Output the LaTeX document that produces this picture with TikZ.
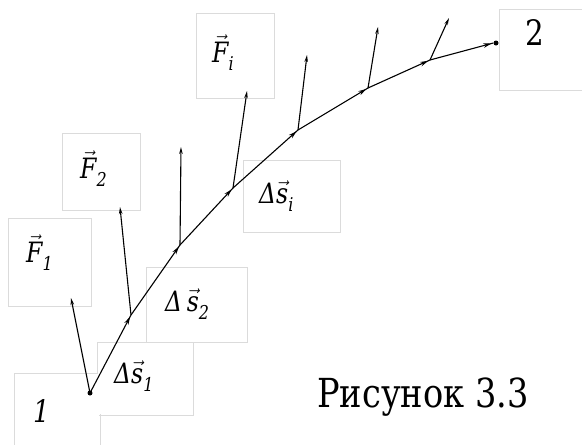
\documentclass[tikz,border=0pt]{standalone}
\usepackage{fontspec}
\setmainfont{DejaVu Serif}[FakeStretch=0.84]
\newfontfamily\tnr{DejaVu Serif}[FakeStretch=0.84]
\usetikzlibrary{arrows.meta,decorations.markings}
\newcommand{\vF}{\ensuremath{\vec{\mbox{\tnr\itshape F}}}}
\newcommand{\vS}{\ensuremath{\vec{\mbox{\tnr\itshape s}}}}
\newcommand{\lblsub}[1]{\raisebox{-0.3em}{\fontsize{19}{19}\selectfont\tnr\itshape #1}}
\begin{document}
\begin{tikzpicture}[x=1pt,y=-1pt,
  lblbox/.style={draw=black!14, line width=0.8pt},
  chord/.style={line width=1.1pt, postaction={decorate},
    decoration={markings, mark=at position -2pt with {\arrow{Stealth[length=8pt,width=4.5pt]}}}},
  force/.style={line width=1.1pt, -{Stealth[length=7pt,width=3.5pt]}},
  lbl/.style={inner sep=0pt, anchor=base west, font=\fontsize{28}{28}\selectfont\tnr},
  enddot/.style={circle, fill=black, inner sep=0pt, minimum size=5pt}]
\useasboundingbox (0,0) rectangle (582,445);
% label frames (outline of their union)
\draw[lblbox] (14,373) rectangle (100,452);
\draw[lblbox] (97,342) rectangle (193,415);
\draw[lblbox] (146,267) rectangle (247,342);
\draw[lblbox] (8,218) rectangle (91,306);
\draw[lblbox] (62,133) rectangle (140,210);
\draw[lblbox] (243,160) rectangle (340,232);
\draw[lblbox] (196,13) rectangle (274,98);
\draw[lblbox] (499,9) rectangle (590,90);
\fill[white] (14.9,373.9) rectangle (99.1,451);
\fill[white] (97.9,342.9) rectangle (192.1,414.1);
\fill[white] (146.9,267.9) rectangle (246.1,341.1);
\fill[white] (8.9,218.9) rectangle (90.1,305.1);
\fill[white] (62.9,133.9) rectangle (139.1,209.1);
\fill[white] (243.9,160.9) rectangle (339.1,231.1);
\fill[white] (196.9,13.9) rectangle (273.1,97.1);
\fill[white] (499.9,9.9) rectangle (589,89.1);
% points of the path
\node[enddot] (p0) at (90,393) {};
\coordinate (p1) at (131,315);
\coordinate (p2) at (180,245);
\coordinate (p3) at (233,188);
\coordinate (p4) at (298,130);
\coordinate (p5) at (368,88);
\coordinate (p6) at (430,60);
\node[enddot] (p7) at (496,43) {};
% force tips
\coordinate (f0) at (71,298);
\coordinate (f1) at (120,207);
\coordinate (f2) at (181,147);
\coordinate (f3) at (247,91);
\coordinate (f4) at (307,55);
\coordinate (f5) at (378,27);
\coordinate (f6) at (449,18);
% chords
\draw[chord] (p0.center) -- (p1);
\draw[chord] (p1) -- (p2);
\draw[chord] (p2) -- (p3);
\draw[chord] (p3) -- (p4);
\draw[chord] (p4) -- (p5);
\draw[chord] (p5) -- (p6);
\draw[chord] (p6) -- (p7.west);
% forces
\draw[force] (p0.center) -- (f0);
\draw[force] (p1) -- (f1);
\draw[force] (p2) -- (f2);
\draw[force] (p3) -- (f3);
\draw[force] (p4) -- (f4);
\draw[force] (p5) -- (f5);
\draw[force] (p6) -- (f6);
% labels
\node[lbl] (lF1) at (26,262) {\vF\lblsub{1}};
\node[lbl] (lF2) at (80,178) {\vF\lblsub{2}};
\node[lbl] (lFi) at (212,62) {\vF\lblsub{i}};
\node[lbl] (ls1) at (114,383) {{\itshape Δ}\vS\lblsub{1}};
\node[lbl] (ls2) at (165,311) {{\itshape Δ}\,\vS\lblsub{2}};
\node[lbl] (lsi) at (259,203) {{\itshape Δ}\vS\lblsub{i}};
\node[inner sep=0pt, anchor=base west, font=\fontsize{31}{31}\selectfont\tnr\itshape] (l1) at (33,422) {1};
\node[inner sep=0pt, anchor=base west, font=\fontsize{35}{35}\selectfont\tnr] (l2) at (525,45) {2};
\node[inner sep=0pt, anchor=base west, font=\fontsize{40}{40}\selectfont\tnr] (cap) at (317,407) {Рисунок 3.3};
\end{tikzpicture}
\end{document}
